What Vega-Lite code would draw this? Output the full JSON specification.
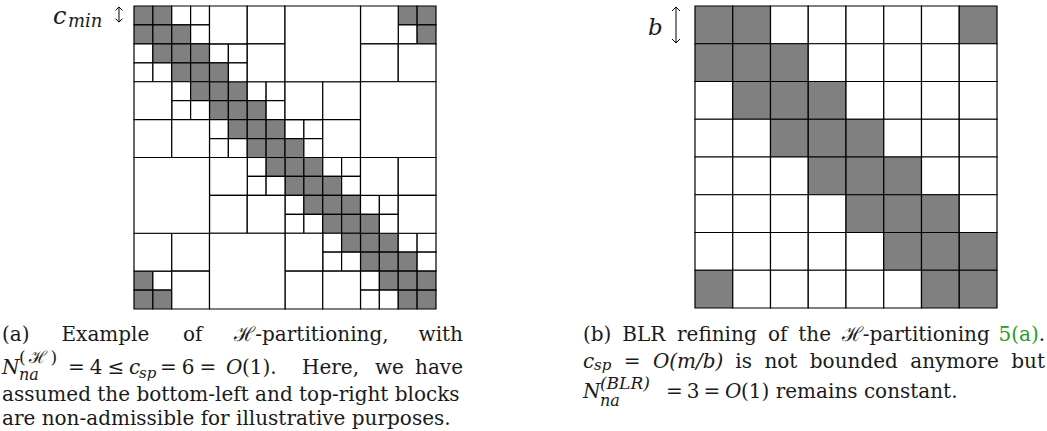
{
  "$schema": "https://vega.github.io/schema/vega-lite/v6.json",
  "padding": 0,
  "bounds": "flush",
  "spacing": 114,
  "config": {
    "view": {"stroke": null},
    "text": {"font": "DejaVu Serif", "fontSize": 20, "align": "left", "baseline": "middle", "color": "#1a1a1a"}
  },
  "datasets": {
    "blocksA": [
      {"r":0,"r2":1,"c":0,"c2":1,"k":"D"},{"r":0,"r2":1,"c":1,"c2":2,"k":"D"},{"r":0,"r2":1,"c":2,"c2":3,"k":"L"},{"r":0,"r2":1,"c":3,"c2":4,"k":"L"},
      {"r":1,"r2":2,"c":0,"c2":1,"k":"D"},{"r":1,"r2":2,"c":1,"c2":2,"k":"D"},{"r":1,"r2":2,"c":2,"c2":3,"k":"D"},{"r":1,"r2":2,"c":3,"c2":4,"k":"L"},
      {"r":2,"r2":3,"c":0,"c2":1,"k":"L"},{"r":2,"r2":3,"c":1,"c2":2,"k":"D"},{"r":2,"r2":3,"c":2,"c2":3,"k":"D"},{"r":2,"r2":3,"c":3,"c2":4,"k":"D"},
      {"r":3,"r2":4,"c":0,"c2":1,"k":"L"},{"r":3,"r2":4,"c":1,"c2":2,"k":"L"},{"r":3,"r2":4,"c":2,"c2":3,"k":"D"},{"r":3,"r2":4,"c":3,"c2":4,"k":"D"},
      {"r":4,"r2":5,"c":4,"c2":5,"k":"D"},{"r":4,"r2":5,"c":5,"c2":6,"k":"D"},{"r":4,"r2":5,"c":6,"c2":7,"k":"L"},{"r":4,"r2":5,"c":7,"c2":8,"k":"L"},
      {"r":5,"r2":6,"c":4,"c2":5,"k":"D"},{"r":5,"r2":6,"c":5,"c2":6,"k":"D"},{"r":5,"r2":6,"c":6,"c2":7,"k":"D"},{"r":5,"r2":6,"c":7,"c2":8,"k":"L"},
      {"r":6,"r2":7,"c":4,"c2":5,"k":"L"},{"r":6,"r2":7,"c":5,"c2":6,"k":"D"},{"r":6,"r2":7,"c":6,"c2":7,"k":"D"},{"r":6,"r2":7,"c":7,"c2":8,"k":"D"},
      {"r":7,"r2":8,"c":4,"c2":5,"k":"L"},{"r":7,"r2":8,"c":5,"c2":6,"k":"L"},{"r":7,"r2":8,"c":6,"c2":7,"k":"D"},{"r":7,"r2":8,"c":7,"c2":8,"k":"D"},
      {"r":8,"r2":9,"c":8,"c2":9,"k":"D"},{"r":8,"r2":9,"c":9,"c2":10,"k":"D"},{"r":8,"r2":9,"c":10,"c2":11,"k":"L"},{"r":8,"r2":9,"c":11,"c2":12,"k":"L"},
      {"r":9,"r2":10,"c":8,"c2":9,"k":"D"},{"r":9,"r2":10,"c":9,"c2":10,"k":"D"},{"r":9,"r2":10,"c":10,"c2":11,"k":"D"},{"r":9,"r2":10,"c":11,"c2":12,"k":"L"},
      {"r":10,"r2":11,"c":8,"c2":9,"k":"L"},{"r":10,"r2":11,"c":9,"c2":10,"k":"D"},{"r":10,"r2":11,"c":10,"c2":11,"k":"D"},{"r":10,"r2":11,"c":11,"c2":12,"k":"D"},
      {"r":11,"r2":12,"c":8,"c2":9,"k":"L"},{"r":11,"r2":12,"c":9,"c2":10,"k":"L"},{"r":11,"r2":12,"c":10,"c2":11,"k":"D"},{"r":11,"r2":12,"c":11,"c2":12,"k":"D"},
      {"r":12,"r2":13,"c":12,"c2":13,"k":"D"},{"r":12,"r2":13,"c":13,"c2":14,"k":"D"},{"r":12,"r2":13,"c":14,"c2":15,"k":"L"},{"r":12,"r2":13,"c":15,"c2":16,"k":"L"},
      {"r":13,"r2":14,"c":12,"c2":13,"k":"D"},{"r":13,"r2":14,"c":13,"c2":14,"k":"D"},{"r":13,"r2":14,"c":14,"c2":15,"k":"D"},{"r":13,"r2":14,"c":15,"c2":16,"k":"L"},
      {"r":14,"r2":15,"c":12,"c2":13,"k":"L"},{"r":14,"r2":15,"c":13,"c2":14,"k":"D"},{"r":14,"r2":15,"c":14,"c2":15,"k":"D"},{"r":14,"r2":15,"c":15,"c2":16,"k":"D"},
      {"r":15,"r2":16,"c":12,"c2":13,"k":"L"},{"r":15,"r2":16,"c":13,"c2":14,"k":"L"},{"r":15,"r2":16,"c":14,"c2":15,"k":"D"},{"r":15,"r2":16,"c":15,"c2":16,"k":"D"},
      {"r":2,"r2":3,"c":4,"c2":5,"k":"L"},{"r":2,"r2":3,"c":5,"c2":6,"k":"L"},{"r":3,"r2":4,"c":4,"c2":5,"k":"D"},{"r":3,"r2":4,"c":5,"c2":6,"k":"L"},
      {"r":4,"r2":5,"c":2,"c2":3,"k":"L"},{"r":4,"r2":5,"c":3,"c2":4,"k":"D"},{"r":5,"r2":6,"c":2,"c2":3,"k":"L"},{"r":5,"r2":6,"c":3,"c2":4,"k":"L"},
      {"r":6,"r2":7,"c":8,"c2":9,"k":"L"},{"r":6,"r2":7,"c":9,"c2":10,"k":"L"},{"r":7,"r2":8,"c":8,"c2":9,"k":"D"},{"r":7,"r2":8,"c":9,"c2":10,"k":"L"},
      {"r":8,"r2":9,"c":6,"c2":7,"k":"L"},{"r":8,"r2":9,"c":7,"c2":8,"k":"D"},{"r":9,"r2":10,"c":6,"c2":7,"k":"L"},{"r":9,"r2":10,"c":7,"c2":8,"k":"L"},
      {"r":10,"r2":11,"c":12,"c2":13,"k":"L"},{"r":10,"r2":11,"c":13,"c2":14,"k":"L"},{"r":11,"r2":12,"c":12,"c2":13,"k":"D"},{"r":11,"r2":12,"c":13,"c2":14,"k":"L"},
      {"r":12,"r2":13,"c":10,"c2":11,"k":"L"},{"r":12,"r2":13,"c":11,"c2":12,"k":"D"},{"r":13,"r2":14,"c":10,"c2":11,"k":"L"},{"r":13,"r2":14,"c":11,"c2":12,"k":"L"},
      {"r":0,"r2":1,"c":14,"c2":15,"k":"D"},{"r":0,"r2":1,"c":15,"c2":16,"k":"D"},{"r":1,"r2":2,"c":14,"c2":15,"k":"L"},{"r":1,"r2":2,"c":15,"c2":16,"k":"D"},
      {"r":14,"r2":15,"c":0,"c2":1,"k":"D"},{"r":14,"r2":15,"c":1,"c2":2,"k":"L"},{"r":15,"r2":16,"c":0,"c2":1,"k":"D"},{"r":15,"r2":16,"c":1,"c2":2,"k":"D"},
      {"r":0,"r2":2,"c":4,"c2":6,"k":"L"},{"r":0,"r2":2,"c":6,"c2":8,"k":"L"},{"r":2,"r2":4,"c":6,"c2":8,"k":"L"},
      {"r":4,"r2":6,"c":0,"c2":2,"k":"L"},{"r":6,"r2":8,"c":0,"c2":2,"k":"L"},{"r":6,"r2":8,"c":2,"c2":4,"k":"L"},
      {"r":4,"r2":6,"c":8,"c2":10,"k":"L"},{"r":4,"r2":6,"c":10,"c2":12,"k":"L"},{"r":6,"r2":8,"c":10,"c2":12,"k":"L"},
      {"r":8,"r2":10,"c":4,"c2":6,"k":"L"},{"r":10,"r2":12,"c":4,"c2":6,"k":"L"},{"r":10,"r2":12,"c":6,"c2":8,"k":"L"},
      {"r":8,"r2":10,"c":12,"c2":14,"k":"L"},{"r":8,"r2":10,"c":14,"c2":16,"k":"L"},{"r":10,"r2":12,"c":14,"c2":16,"k":"L"},
      {"r":12,"r2":14,"c":8,"c2":10,"k":"L"},{"r":14,"r2":16,"c":8,"c2":10,"k":"L"},{"r":14,"r2":16,"c":10,"c2":12,"k":"L"},
      {"r":0,"r2":2,"c":12,"c2":14,"k":"L"},{"r":2,"r2":4,"c":12,"c2":14,"k":"L"},{"r":2,"r2":4,"c":14,"c2":16,"k":"L"},
      {"r":12,"r2":14,"c":0,"c2":2,"k":"L"},{"r":12,"r2":14,"c":2,"c2":4,"k":"L"},{"r":14,"r2":16,"c":2,"c2":4,"k":"L"},
      {"r":0,"r2":4,"c":8,"c2":12,"k":"L"},{"r":4,"r2":8,"c":12,"c2":16,"k":"L"},{"r":8,"r2":12,"c":0,"c2":4,"k":"L"},{"r":12,"r2":16,"c":4,"c2":8,"k":"L"}
    ],
    "blocksB": [
      {"r":0,"r2":1,"c":0,"c2":1,"k":"D"},{"r":0,"r2":1,"c":1,"c2":2,"k":"D"},{"r":0,"r2":1,"c":2,"c2":3,"k":"L"},{"r":0,"r2":1,"c":3,"c2":4,"k":"L"},{"r":0,"r2":1,"c":4,"c2":5,"k":"L"},{"r":0,"r2":1,"c":5,"c2":6,"k":"L"},{"r":0,"r2":1,"c":6,"c2":7,"k":"L"},{"r":0,"r2":1,"c":7,"c2":8,"k":"D"},
      {"r":1,"r2":2,"c":0,"c2":1,"k":"D"},{"r":1,"r2":2,"c":1,"c2":2,"k":"D"},{"r":1,"r2":2,"c":2,"c2":3,"k":"D"},{"r":1,"r2":2,"c":3,"c2":4,"k":"L"},{"r":1,"r2":2,"c":4,"c2":5,"k":"L"},{"r":1,"r2":2,"c":5,"c2":6,"k":"L"},{"r":1,"r2":2,"c":6,"c2":7,"k":"L"},{"r":1,"r2":2,"c":7,"c2":8,"k":"L"},
      {"r":2,"r2":3,"c":0,"c2":1,"k":"L"},{"r":2,"r2":3,"c":1,"c2":2,"k":"D"},{"r":2,"r2":3,"c":2,"c2":3,"k":"D"},{"r":2,"r2":3,"c":3,"c2":4,"k":"D"},{"r":2,"r2":3,"c":4,"c2":5,"k":"L"},{"r":2,"r2":3,"c":5,"c2":6,"k":"L"},{"r":2,"r2":3,"c":6,"c2":7,"k":"L"},{"r":2,"r2":3,"c":7,"c2":8,"k":"L"},
      {"r":3,"r2":4,"c":0,"c2":1,"k":"L"},{"r":3,"r2":4,"c":1,"c2":2,"k":"L"},{"r":3,"r2":4,"c":2,"c2":3,"k":"D"},{"r":3,"r2":4,"c":3,"c2":4,"k":"D"},{"r":3,"r2":4,"c":4,"c2":5,"k":"D"},{"r":3,"r2":4,"c":5,"c2":6,"k":"L"},{"r":3,"r2":4,"c":6,"c2":7,"k":"L"},{"r":3,"r2":4,"c":7,"c2":8,"k":"L"},
      {"r":4,"r2":5,"c":0,"c2":1,"k":"L"},{"r":4,"r2":5,"c":1,"c2":2,"k":"L"},{"r":4,"r2":5,"c":2,"c2":3,"k":"L"},{"r":4,"r2":5,"c":3,"c2":4,"k":"D"},{"r":4,"r2":5,"c":4,"c2":5,"k":"D"},{"r":4,"r2":5,"c":5,"c2":6,"k":"D"},{"r":4,"r2":5,"c":6,"c2":7,"k":"L"},{"r":4,"r2":5,"c":7,"c2":8,"k":"L"},
      {"r":5,"r2":6,"c":0,"c2":1,"k":"L"},{"r":5,"r2":6,"c":1,"c2":2,"k":"L"},{"r":5,"r2":6,"c":2,"c2":3,"k":"L"},{"r":5,"r2":6,"c":3,"c2":4,"k":"L"},{"r":5,"r2":6,"c":4,"c2":5,"k":"D"},{"r":5,"r2":6,"c":5,"c2":6,"k":"D"},{"r":5,"r2":6,"c":6,"c2":7,"k":"D"},{"r":5,"r2":6,"c":7,"c2":8,"k":"L"},
      {"r":6,"r2":7,"c":0,"c2":1,"k":"L"},{"r":6,"r2":7,"c":1,"c2":2,"k":"L"},{"r":6,"r2":7,"c":2,"c2":3,"k":"L"},{"r":6,"r2":7,"c":3,"c2":4,"k":"L"},{"r":6,"r2":7,"c":4,"c2":5,"k":"L"},{"r":6,"r2":7,"c":5,"c2":6,"k":"D"},{"r":6,"r2":7,"c":6,"c2":7,"k":"D"},{"r":6,"r2":7,"c":7,"c2":8,"k":"D"},
      {"r":7,"r2":8,"c":0,"c2":1,"k":"D"},{"r":7,"r2":8,"c":1,"c2":2,"k":"L"},{"r":7,"r2":8,"c":2,"c2":3,"k":"L"},{"r":7,"r2":8,"c":3,"c2":4,"k":"L"},{"r":7,"r2":8,"c":4,"c2":5,"k":"L"},{"r":7,"r2":8,"c":5,"c2":6,"k":"L"},{"r":7,"r2":8,"c":6,"c2":7,"k":"D"},{"r":7,"r2":8,"c":7,"c2":8,"k":"D"}
    ]
  },
  "hconcat": [
    {
      "width": 466,
      "height": 431,
      "layer": [
        {
          "data": {"name": "blocksA"},
          "mark": {"type": "rect", "stroke": "#000000", "strokeWidth": 1.2},
          "encoding": {
            "x": {"field": "c", "type": "quantitative", "scale": {"domain": [-7.0993, 17.5894], "nice": false, "zero": false}, "axis": null},
            "x2": {"field": "c2"},
            "y": {"field": "r", "type": "quantitative", "scale": {"domain": [-0.3168, 22.4422], "nice": false, "zero": false, "reverse": true}, "axis": null},
            "y2": {"field": "r2"},
            "fill": {"field": "k", "type": "nominal", "scale": {"domain": ["D", "L"], "range": ["#808080", "#ffffff"]}, "legend": null}
          }
        },
        {"data": {"values": [{}]}, "mark": {"type": "rule", "color": "#000000", "strokeWidth": 1}, "encoding": {"x": {"datum": -0.795}, "y": {"datum": 0.05}, "y2": {"datum": 0.85}}},
        {"data": {"values": [{}]}, "mark": {"type": "point", "shape": "M-1,1L0,0L1,1", "filled": false, "stroke": "#000000", "strokeWidth": 1, "size": 49, "opacity": 1}, "encoding": {"x": {"datum": -0.795}, "y": {"datum": 0.05}}},
        {"data": {"values": [{}]}, "mark": {"type": "point", "shape": "M-1,-1L0,0L1,-1", "filled": false, "stroke": "#000000", "strokeWidth": 1, "size": 49, "opacity": 1}, "encoding": {"x": {"datum": -0.795}, "y": {"datum": 0.85}}},
        {"data": {"values": [{}]}, "mark": {"type": "text", "text": "c", "fontStyle": "italic", "fontSize": 24}, "encoding": {"x": {"datum": -4.291}, "y": {"datum": 0.58}}},
        {"data": {"values": [{}]}, "mark": {"type": "text", "text": "min", "fontStyle": "italic", "fontSize": 18}, "encoding": {"x": {"datum": -3.497}, "y": {"datum": 0.87}}},
        {"data": {"values": [{}]}, "mark": {"type": "text", "text": "(a)"}, "encoding": {"x": {"datum": -6.993}, "y": {"datum": 17.373}}},
        {"data": {"values": [{}]}, "mark": {"type": "text", "text": "Example"}, "encoding": {"x": {"datum": -3.841}, "y": {"datum": 17.373}}},
        {"data": {"values": [{}]}, "mark": {"type": "text", "text": "of"}, "encoding": {"x": {"datum": 2.591}, "y": {"datum": 17.373}}},
        {"data": {"values": [{}]}, "mark": {"type": "text", "text": "ℋ-partitioning,"}, "encoding": {"x": {"datum": 5.314}, "y": {"datum": 17.373}}},
        {"data": {"values": [{}]}, "mark": {"type": "text", "text": "with", "align": "right"}, "encoding": {"x": {"datum": 17.43}, "y": {"datum": 17.373}}},
        {"data": {"values": [{}]}, "mark": {"type": "text", "text": "N", "fontStyle": "italic"}, "encoding": {"x": {"datum": -6.993}, "y": {"datum": 19.116}}},
        {"data": {"values": [{}]}, "mark": {"type": "text", "text": "(\u2009ℋ\u2009)", "fontSize": 17}, "encoding": {"x": {"datum": -6.093}, "y": {"datum": 18.587}}},
        {"data": {"values": [{}]}, "mark": {"type": "text", "text": "na", "fontStyle": "italic", "fontSize": 16}, "encoding": {"x": {"datum": -6.093}, "y": {"datum": 19.485}}},
        {"data": {"values": [{}]}, "mark": {"type": "text", "text": "=\u20054\u2005≤"}, "encoding": {"x": {"datum": -3.497}, "y": {"datum": 19.116}}},
        {"data": {"values": [{}]}, "mark": {"type": "text", "text": "c", "fontStyle": "italic"}, "encoding": {"x": {"datum": -0.265}, "y": {"datum": 19.116}}},
        {"data": {"values": [{}]}, "mark": {"type": "text", "text": "sp", "fontStyle": "italic", "fontSize": 15}, "encoding": {"x": {"datum": 0.265}, "y": {"datum": 19.38}}},
        {"data": {"values": [{}]}, "mark": {"type": "text", "text": "=\u20056\u2005="}, "encoding": {"x": {"datum": 1.377}, "y": {"datum": 19.116}}},
        {"data": {"values": [{}]}, "mark": {"type": "text", "text": "O", "fontStyle": "italic"}, "encoding": {"x": {"datum": 4.874}, "y": {"datum": 19.116}}},
        {"data": {"values": [{}]}, "mark": {"type": "text", "text": "(1)."}, "encoding": {"x": {"datum": 5.722}, "y": {"datum": 19.116}}},
        {"data": {"values": [{}]}, "mark": {"type": "text", "text": "Here,"}, "encoding": {"x": {"datum": 8.901}, "y": {"datum": 19.116}}},
        {"data": {"values": [{}]}, "mark": {"type": "text", "text": "we"}, "encoding": {"x": {"datum": 12.768}, "y": {"datum": 19.116}}},
        {"data": {"values": [{}]}, "mark": {"type": "text", "text": "have", "align": "right"}, "encoding": {"x": {"datum": 17.43}, "y": {"datum": 19.116}}},
        {"data": {"values": [{}]}, "mark": {"type": "text", "text": "assumed the bottom-left and top-right blocks"}, "encoding": {"x": {"datum": -6.993}, "y": {"datum": 20.54}}},
        {"data": {"values": [{}]}, "mark": {"type": "text", "text": "are non-admissible for illustrative purposes."}, "encoding": {"x": {"datum": -6.993}, "y": {"datum": 21.81}}}
      ]
    },
    {
      "width": 467,
      "height": 431,
      "layer": [
        {
          "data": {"name": "blocksB"},
          "mark": {"type": "rect", "stroke": "#000000", "strokeWidth": 1.2},
          "encoding": {
            "x": {"field": "c", "type": "quantitative", "scale": {"domain": [-3.0464, 9.3245], "nice": false, "zero": false}, "axis": null},
            "x2": {"field": "c2"},
            "y": {"field": "r", "type": "quantitative", "scale": {"domain": [-0.1589, 11.2583], "nice": false, "zero": false, "reverse": true}, "axis": null},
            "y2": {"field": "r2"},
            "fill": {"field": "k", "type": "nominal", "scale": {"domain": ["D", "L"], "range": ["#808080", "#ffffff"]}, "legend": null}
          }
        },
        {"data": {"values": [{}]}, "mark": {"type": "rule", "color": "#000000", "strokeWidth": 1}, "encoding": {"x": {"datum": -0.503}, "y": {"datum": 0.026}, "y2": {"datum": 0.98}}},
        {"data": {"values": [{}]}, "mark": {"type": "point", "shape": "M-1,1L0,0L1,1", "filled": false, "stroke": "#000000", "strokeWidth": 1, "size": 64, "opacity": 1}, "encoding": {"x": {"datum": -0.503}, "y": {"datum": 0.026}}},
        {"data": {"values": [{}]}, "mark": {"type": "point", "shape": "M-1,-1L0,0L1,-1", "filled": false, "stroke": "#000000", "strokeWidth": 1, "size": 64, "opacity": 1}, "encoding": {"x": {"datum": -0.503}, "y": {"datum": 0.98}}},
        {"data": {"values": [{}]}, "mark": {"type": "text", "text": "b", "fontStyle": "italic", "fontSize": 23}, "encoding": {"x": {"datum": -1.245}, "y": {"datum": 0.583}}},
        {"data": {"values": [{}]}, "mark": {"type": "text", "text": "(b)"}, "encoding": {"x": {"datum": -2.967}, "y": {"datum": 8.715}}},
        {"data": {"values": [{}]}, "mark": {"type": "text", "text": "BLR"}, "encoding": {"x": {"datum": -1.928}, "y": {"datum": 8.715}}},
        {"data": {"values": [{}]}, "mark": {"type": "text", "text": "refining"}, "encoding": {"x": {"datum": -0.477}, "y": {"datum": 8.715}}},
        {"data": {"values": [{}]}, "mark": {"type": "text", "text": "of"}, "encoding": {"x": {"datum": 1.934}, "y": {"datum": 8.715}}},
        {"data": {"values": [{}]}, "mark": {"type": "text", "text": "the"}, "encoding": {"x": {"datum": 2.734}, "y": {"datum": 8.715}}},
        {"data": {"values": [{}]}, "mark": {"type": "text", "text": "ℋ-partitioning"}, "encoding": {"x": {"datum": 3.889}, "y": {"datum": 8.715}}},
        {"data": {"values": [{}]}, "mark": {"type": "text", "text": "5(a)", "color": "#2a9a2a"}, "encoding": {"x": {"datum": 8.04}, "y": {"datum": 8.715}}},
        {"data": {"values": [{}]}, "mark": {"type": "text", "text": ".", "align": "right"}, "encoding": {"x": {"datum": 9.272}, "y": {"datum": 8.715}}},
        {"data": {"values": [{}]}, "mark": {"type": "text", "text": "c", "fontStyle": "italic"}, "encoding": {"x": {"datum": -2.967}, "y": {"datum": 9.43}}},
        {"data": {"values": [{}]}, "mark": {"type": "text", "text": "sp", "fontStyle": "italic", "fontSize": 15}, "encoding": {"x": {"datum": -2.675}, "y": {"datum": 9.5}}},
        {"data": {"values": [{}]}, "mark": {"type": "text", "text": "="}, "encoding": {"x": {"datum": -1.889}, "y": {"datum": 9.43}}},
        {"data": {"values": [{}]}, "mark": {"type": "text", "text": "O(m/b)", "fontStyle": "italic"}, "encoding": {"x": {"datum": -1.115}, "y": {"datum": 9.43}}},
        {"data": {"values": [{}]}, "mark": {"type": "text", "text": "is"}, "encoding": {"x": {"datum": 1.068}, "y": {"datum": 9.43}}},
        {"data": {"values": [{}]}, "mark": {"type": "text", "text": "not"}, "encoding": {"x": {"datum": 1.838}, "y": {"datum": 9.43}}},
        {"data": {"values": [{}]}, "mark": {"type": "text", "text": "bounded"}, "encoding": {"x": {"datum": 3.041}, "y": {"datum": 9.43}}},
        {"data": {"values": [{}]}, "mark": {"type": "text", "text": "anymore"}, "encoding": {"x": {"datum": 5.701}, "y": {"datum": 9.43}}},
        {"data": {"values": [{}]}, "mark": {"type": "text", "text": "but", "align": "right"}, "encoding": {"x": {"datum": 9.272}, "y": {"datum": 9.43}}},
        {"data": {"values": [{}]}, "mark": {"type": "text", "text": "N", "fontStyle": "italic"}, "encoding": {"x": {"datum": -2.967}, "y": {"datum": 10.225}}},
        {"data": {"values": [{}]}, "mark": {"type": "text", "text": "(BLR)", "fontStyle": "italic", "fontSize": 17}, "encoding": {"x": {"datum": -2.517}, "y": {"datum": 10.01}}},
        {"data": {"values": [{}]}, "mark": {"type": "text", "text": "na", "fontStyle": "italic", "fontSize": 16}, "encoding": {"x": {"datum": -2.517}, "y": {"datum": 10.47}}},
        {"data": {"values": [{}]}, "mark": {"type": "text", "text": "=\u20093\u2009="}, "encoding": {"x": {"datum": -0.768}, "y": {"datum": 10.225}}},
        {"data": {"values": [{}]}, "mark": {"type": "text", "text": "O", "fontStyle": "italic"}, "encoding": {"x": {"datum": 0.795}, "y": {"datum": 10.225}}},
        {"data": {"values": [{}]}, "mark": {"type": "text", "text": "(1) remains constant."}, "encoding": {"x": {"datum": 1.219}, "y": {"datum": 10.225}}}
      ]
    }
  ]
}
